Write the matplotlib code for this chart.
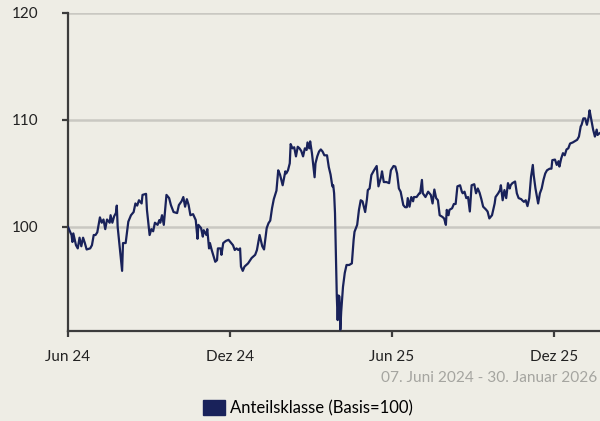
import pandas as pd
import matplotlib.pyplot as plt
from matplotlib.patches import Patch

plt.rcParams['font.family'] = ['Lato', 'DejaVu Sans']

start = pd.Timestamp('2024-06-07')

# days since 07.06.2024 and index value (Basis=100)
days = [0, 4, 5, 6, 9, 11, 13, 15, 17, 19, 21, 25, 27, 29, 31, 33, 36, 38, 40, 42,
        44, 47, 48, 50, 52, 54, 55, 56, 59, 61, 62, 65, 68, 71, 74, 76, 78, 80, 83, 84,
        88, 89, 92, 94, 96, 98, 101, 103, 104, 106, 108, 111, 114, 116, 119, 123, 125, 128, 130, 132,
        134, 136, 138, 141, 144, 146, 147, 150, 152, 153, 156, 157, 159, 160, 162, 164, 166, 168, 169, 172,
        173, 175, 178, 181, 183, 186, 188, 190, 192, 194, 195, 197, 199, 203, 207, 211, 213, 216, 217, 219,
        221, 224, 226, 228, 230, 232, 235, 237, 239, 242, 245, 246, 248, 250, 251, 253, 255, 257, 259, 261,
        263, 265, 267, 269, 270, 272, 273, 275, 278, 279, 281, 283, 285, 287, 289, 292, 294, 296, 298, 299,
        300, 301, 302, 303, 304, 305, 306, 307, 308, 310, 312, 314, 317, 320, 322, 323, 326, 328, 330, 332,
        335, 337, 338, 340, 342, 345, 348, 350, 353, 354, 356, 359, 362, 364, 367, 369, 371, 373, 375, 378,
        380, 382, 383, 385, 387, 389, 390, 393, 396, 397, 399, 400, 403, 406, 409, 411, 413, 415, 417, 419,
        422, 424, 426, 427, 429, 430, 433, 435, 437, 439, 442, 444, 445, 447, 449, 451, 453, 455, 458, 460,
        462, 464, 466, 468, 471, 473, 475, 478, 481, 482, 485, 487, 488, 490, 492, 494, 496, 498, 499, 501,
        504, 506, 508, 511, 512, 514, 516, 518, 520, 522, 524, 525, 527, 530, 532, 534, 536, 538, 540, 543,
        545, 546, 549, 551, 553, 554, 556, 558, 560, 562, 564, 566, 569, 571, 574, 576, 578, 579, 581, 583,
        585, 587, 588, 590, 592, 594, 596, 597, 599, 602]
values = [100.0, 99.25, 98.6, 99.4, 98.3, 98.0, 99.0, 98.2, 99.0, 98.5, 97.9, 98.0, 98.3, 99.25, 99.25, 99.5, 100.9, 100.4, 100.7, 99.8,
          100.7, 100.4, 101.1, 100.4, 101.0, 101.3, 102.0, 100.0, 97.6, 95.9, 98.5, 98.5, 100.5, 101.1, 101.4, 102.2, 102.0, 102.5, 102.2, 103.0,
          103.1, 101.6, 99.25, 99.8, 99.6, 100.4, 100.2, 100.65, 100.4, 101.1, 100.2, 103.0, 102.7, 102.05, 101.4, 101.3, 102.05, 102.4, 102.8, 101.9,
          102.6, 102.05, 101.1, 101.2, 100.65, 98.9, 100.2, 99.9, 99.1, 99.7, 99.25, 99.8, 98.0, 98.5, 97.85, 97.3, 96.75, 96.9, 98.0, 98.0,
          97.4, 98.5, 98.7, 98.8, 98.6, 98.3, 97.85, 98.0, 97.85, 98.0, 96.3, 95.9, 96.3, 96.6, 97.1, 97.4, 97.85, 99.25, 98.9, 98.2,
          97.9, 99.9, 100.35, 100.6, 101.75, 102.6, 103.4, 105.3, 104.9, 103.9, 105.2, 105.0, 105.3, 105.95, 107.75, 107.35, 107.45, 106.6, 107.5, 107.35,
          107.1, 106.6, 107.35, 107.2, 107.9, 107.35, 108.0, 106.9, 104.65, 105.95, 106.6, 107.05, 107.25, 107.05, 106.7, 106.7, 105.6, 104.9, 103.8, 103.9,
          103.15, 101.3, 97.2, 93.6, 91.3, 93.6, 93.5, 90.4, 92.1, 94.4, 95.7, 96.45, 96.45, 96.6, 98.8, 99.55, 100.2, 101.6, 102.5, 102.4,
          101.4, 102.6, 103.45, 103.6, 104.85, 105.3, 105.7, 103.8, 104.7, 105.2, 104.2, 104.2, 104.1, 105.3, 105.7, 105.65, 105.0, 103.6, 103.3, 102.05,
          101.85, 101.85, 102.7, 101.9, 102.8, 102.4, 102.8, 102.8, 103.15, 103.15, 104.4, 103.15, 102.8, 103.3, 103.0, 102.2, 103.5, 102.7, 102.5, 101.1,
          100.95, 100.8, 100.2, 101.6, 101.1, 101.6, 101.75, 102.15, 102.15, 103.8, 103.9, 103.3, 103.15, 103.3, 102.7, 102.8, 101.45, 103.9, 104.0, 103.15,
          103.6, 103.2, 102.6, 101.9, 101.65, 101.45, 100.8, 101.1, 102.2, 102.8, 103.15, 103.45, 103.9, 102.5, 103.45, 102.7, 104.1, 103.6, 103.9, 104.1,
          104.25, 103.15, 102.7, 102.6, 102.5, 102.35, 102.5, 101.95, 102.7, 104.7, 105.8, 104.85, 103.6, 102.2, 103.15, 103.6, 104.4, 105.0, 105.3, 105.45,
          105.45, 106.25, 106.3, 105.8, 106.15, 105.65, 106.4, 106.9, 106.7, 107.25, 107.35, 107.8, 107.9, 108.0, 108.15, 108.45, 109.4, 109.55, 110.15, 110.15,
          109.55, 110.3, 110.9, 110.0, 109.1, 108.45, 109.1, 108.6, 108.75, 108.9]

tick_dates = ['2024-06-07', '2024-12-07', '2025-06-07', '2025-12-07']
tick_labels = ['Jun 24', 'Dez 24', 'Jun 25', 'Dez 25']
y_ticks = [100, 110, 120]

bg = '#eeede5'
navy = '#19225a'

dates = start + pd.to_timedelta(days, unit='D')

fig = plt.figure(figsize=(6, 4.21), dpi=100, facecolor=bg)
ax = fig.add_axes([68 / 600, 1 - 331 / 421, 534 / 600, 318 / 421])
ax.set_facecolor(bg)

ax.plot(dates, values, color=navy, lw=1.6, zorder=3)

ax.set_xlim(start, pd.Timestamp('2026-01-30'))
ax.set_ylim(90.28, 120)
ax.set_yticks(y_ticks)
ax.set_xticks(pd.to_datetime(tick_dates))
ax.set_xticklabels(tick_labels)
ax.grid(axis='y', color='#c9c8c2', lw=1.8)
ax.set_axisbelow(True)

for s in ['top', 'right']:
    ax.spines[s].set_visible(False)
for s in ['left', 'bottom']:
    ax.spines[s].set_color('#3c3c3c')
    ax.spines[s].set_linewidth(1.6)

ax.tick_params(axis='y', length=4, width=1.6, color='#3c3c3c', pad=17.5, labelsize=11, labelcolor='#222222')
ax.tick_params(axis='x', length=4, width=1.6, color='#3c3c3c', pad=10, labelsize=11, labelcolor='#222222')

fig.text(381 / 600, 1 - 378 / 421, '07. Juni 2024 - 30. Januar 2026', color='#a5a5a0',
         fontsize=11.1, ha='left', va='center')

fig.legend(handles=[Patch(facecolor=navy, edgecolor=navy)], labels=['Anteilsklasse (Basis=100)'],
           loc='center', bbox_to_anchor=(308 / 600, 1 - 408 / 421), frameon=False,
           fontsize=12, handlelength=1.3, handleheight=0.95, handletextpad=0.3)

fig.savefig('out.png', dpi=100, facecolor=bg)
